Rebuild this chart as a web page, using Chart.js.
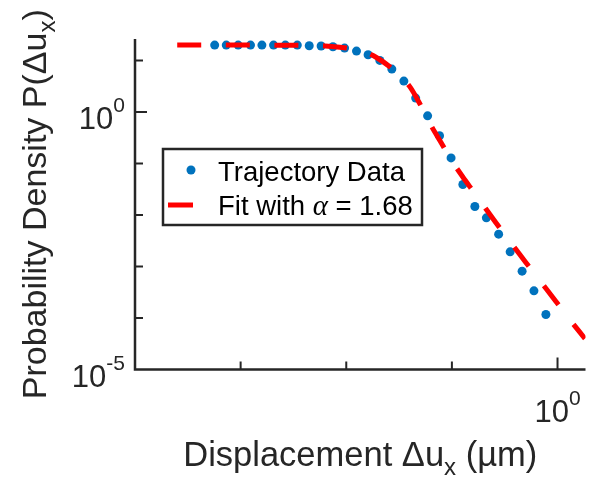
<!DOCTYPE html>
<html>
<head>
<meta charset="utf-8">
<script src="https://cdn.jsdelivr.net/npm/chart.js@4.4.0/dist/chart.umd.min.js"></script>
<style>
  html, body { margin: 0; padding: 0; background: #fff; }
  canvas { display: block; }
</style>
</head>
<body>
<canvas id="pdfChart" width="590" height="479"></canvas>
<script>
// values (log-log plot)
const trajX = [5.68e-4, 7.31e-4, 9.48e-4, 1.24e-3, 1.59e-3, 2.05e-3, 2.65e-3, 3.44e-3, 4.46e-3, 5.78e-3,
    7.48e-3, 9.64e-3, 0.0125, 0.0161, 0.0208, 0.0270, 0.0351, 0.0454, 0.0589, 0.0764,
    0.0982, 0.127, 0.165, 0.212, 0.277, 0.356, 0.462, 0.598, 0.776];
const trajY = [20.0, 20.0, 20.0, 20.0, 20.0, 20.0, 20.0, 20.0, 19.4, 19.2,
    18.6, 17.5, 15.3, 13.0, 10.1, 6.85, 4.00, 1.87, 0.847, 0.347,
    0.129, 0.0392, 0.0147, 8.83e-3, 4.26e-3, 1.93e-3, 8.13e-4, 3.37e-4, 1.17e-4];

const fitX = [2.51e-4, 1e-3, 3.16e-3, 6.31e-3, 0.01, 0.0158, 0.02, 0.0251, 0.0316, 0.0398,
    0.0501, 0.0631, 0.0794, 0.1, 0.126, 0.158, 0.2, 0.251, 0.316, 0.398,
    0.501, 0.631, 0.794, 1.0, 1.26, 1.82];
const fitY = [20.0, 20.0, 19.95, 19.3, 17.6, 14.1, 11.0, 7.94, 5.25, 3.16,
    1.41, 0.562, 0.251, 0.112, 0.0562, 0.0295, 0.0151, 7.94e-3, 4.17e-3, 2.24e-3,
    1.20e-3, 6.46e-4, 3.55e-4, 1.91e-4, 1.02e-4, 3.98e-5];

const xTicks = [1e-3, 1e-2, 1e-1, 1];
const yTicks = [1e-4, 1e-3, 1e-2, 1e-1, 1, 10];
const xLabels = [{ value: 1, base: '10', exp: '0' }];
const yLabels = [{ value: 1, base: '10', exp: '0' }, { value: 1e-5, base: '10', exp: '-5' }];

const AXIS_COLOR = '#262626';
const SANS = '"Liberation Sans", Arial, Helvetica, sans-serif';

function toPoints(xs, ys) {
    return xs.map((x, i) => ({ x: x, y: ys[i] }));
}

// draws runs of text with different fonts/offsets, starting at x
function drawRuns(ctx, runs, x, y) {
    runs.forEach(run => {
        ctx.font = run.font;
        ctx.fillText(run.text, x, y + (run.dy || 0));
        x += ctx.measureText(run.text).width;
    });
}

function runsWidth(ctx, runs) {
    return runs.reduce((w, run) => {
        ctx.font = run.font;
        return w + ctx.measureText(run.text).width;
    }, 0);
}

function powerRuns(lab) {
    return [
        { text: lab.base, font: '31px ' + SANS },
        { text: lab.exp, font: '21px ' + SANS, dy: -17 }
    ];
}

const axesPlugin = {
    id: 'matlabAxes',
    afterDatasetsDraw(chart) {
        const ctx = chart.ctx;
        const area = chart.chartArea;
        const xs = chart.scales.x;
        const ys = chart.scales.y;

        ctx.save();
        ctx.strokeStyle = AXIS_COLOR;
        ctx.fillStyle = AXIS_COLOR;
        ctx.lineWidth = 2.5;
        ctx.lineCap = 'butt';

        // axis lines
        ctx.beginPath();
        ctx.moveTo(area.left, area.top);
        ctx.lineTo(area.left, area.bottom);
        ctx.lineTo(area.right, area.bottom);
        ctx.stroke();

        // inward ticks
        ctx.lineWidth = 2;
        ctx.beginPath();
        yTicks.forEach(v => {
            const py = ys.getPixelForValue(v);
            const len = v === 1 ? 12 : 8;
            ctx.moveTo(area.left, py);
            ctx.lineTo(area.left + len, py);
        });
        xTicks.forEach(v => {
            const px = xs.getPixelForValue(v);
            const len = v === 1 ? 12 : 8;
            ctx.moveTo(px, area.bottom);
            ctx.lineTo(px, area.bottom - len);
        });
        ctx.stroke();

        // tick labels with superscripts
        ctx.textBaseline = 'alphabetic';
        ctx.textAlign = 'left';
        yLabels.forEach(lab => {
            const py = ys.getPixelForValue(lab.value);
            const runs = powerRuns(lab);
            const w = runsWidth(ctx, runs);
            drawRuns(ctx, runs, area.left - 10 - w, py + 17);
        });
        xLabels.forEach(lab => {
            const px = xs.getPixelForValue(lab.value);
            const runs = powerRuns(lab);
            const w = runsWidth(ctx, runs);
            drawRuns(ctx, runs, px - w / 2, area.bottom + 52);
        });

        // x axis title
        const xTitle = [
            { text: 'Displacement \u0394u', font: '34.5px ' + SANS },
            { text: 'x', font: '24px ' + SANS, dy: 9 },
            { text: ' (\u00b5m)', font: '34.5px ' + SANS }
        ];
        const xcx = (area.left + area.right) / 2;
        drawRuns(ctx, xTitle, xcx - runsWidth(ctx, xTitle) / 2, 466);

        // y axis title (rotated)
        const yTitle = [
            { text: 'Probability Density P(\u0394u', font: '34px ' + SANS },
            { text: 'x', font: '24px ' + SANS, dy: 9 },
            { text: ')', font: '34px ' + SANS }
        ];
        const ycy = (area.top + area.bottom) / 2;
        ctx.save();
        ctx.translate(46, ycy);
        ctx.rotate(-Math.PI / 2);
        drawRuns(ctx, yTitle, -runsWidth(ctx, yTitle) / 2, 0);
        ctx.restore();

        // legend box
        const box = { left: 163, top: 149, right: 422, bottom: 225 };
        ctx.fillStyle = '#fff';
        ctx.fillRect(box.left, box.top, box.right - box.left, box.bottom - box.top);
        ctx.strokeStyle = AXIS_COLOR;
        ctx.lineWidth = 2.5;
        ctx.strokeRect(box.left, box.top, box.right - box.left, box.bottom - box.top);

        ctx.fillStyle = '#0072BD';
        ctx.beginPath();
        ctx.arc(191, 170, 4.5, 0, Math.PI * 2);
        ctx.fill();

        ctx.strokeStyle = '#FF0000';
        ctx.lineWidth = 5;
        ctx.beginPath();
        ctx.moveTo(168, 205);
        ctx.lineTo(193, 205);
        ctx.stroke();

        ctx.fillStyle = '#000';
        drawRuns(ctx, [{ text: 'Trajectory Data', font: '27.5px ' + SANS }], 218, 181);
        drawRuns(ctx, [
            { text: 'Fit with ', font: '27.5px ' + SANS },
            { text: '\u03b1', font: 'italic 29px "Liberation Serif", "DejaVu Serif", serif' },
            { text: ' = 1.68', font: '27.5px ' + SANS }
        ], 218, 215);

        ctx.restore();
    }
};

document.addEventListener('DOMContentLoaded', function() {
    const ctx = document.getElementById('pdfChart').getContext('2d');
    new Chart(ctx, {
        type: 'scatter',
        data: {
            datasets: [{
                label: 'Fit with \u03b1 = 1.68',
                data: toPoints(fitX, fitY),
                showLine: true,
                borderColor: '#FF0000',
                borderWidth: 5,
                borderDash: [24, 24.6],
                borderCapStyle: 'butt',
                cubicInterpolationMode: 'monotone',
                pointRadius: 0,
                order: 0
            }, {
                label: 'Trajectory Data',
                data: toPoints(trajX, trajY),
                showLine: false,
                backgroundColor: '#0072BD',
                borderWidth: 0,
                pointRadius: 4.5,
                order: 1
            }]
        },
        options: {
            responsive: false,
            animation: false,
            layout: { padding: { left: 135, right: 0, top: 39, bottom: 109.5 } },
            scales: {
                x: { type: 'logarithmic', min: 1e-4, max: 1.84, display: false },
                y: { type: 'logarithmic', min: 1e-5, max: 26.3, display: false }
            },
            plugins: {
                legend: { display: false },
                tooltip: { enabled: false }
            }
        },
        plugins: [axesPlugin]
    });
});
</script>
</body>
</html>
